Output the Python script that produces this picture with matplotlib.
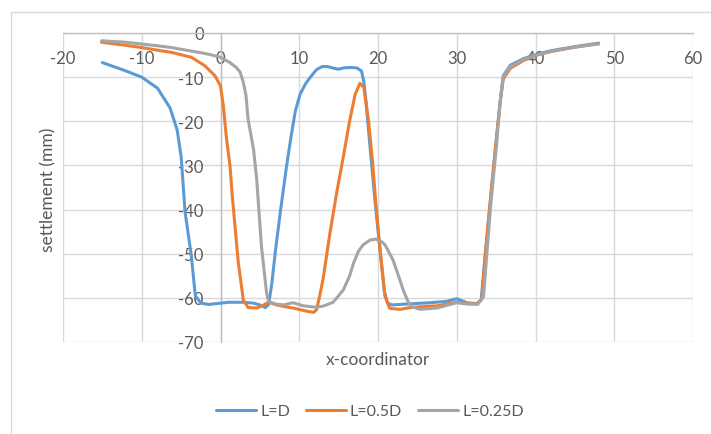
import matplotlib
matplotlib.use("Agg")
import matplotlib.pyplot as plt
from matplotlib.patches import Rectangle

plt.rcParams['font.family'] = ['Lato', 'DejaVu Sans']
plt.rcParams['axes.unicode_minus'] = False

# settlement profiles along the section
x_ld = [-15, -12, -10, -8, -6.4, -5.5, -5.0, -4.5, -3.7, -3.2, -2.5, -1.5, 0, 1, 2, 3, 4.2, 5.0,
        5.7, 6.1, 6.5, 7.0, 7.6, 8.4, 9.0, 9.5, 10.1, 10.8, 11.5, 12.2, 12.9, 13.6, 14.4, 15.0,
        15.7, 16.5, 17.3, 17.9, 18.2, 18.5, 19.0, 19.6, 20.25, 20.8, 21.2, 21.8, 23.6, 26.6,
        28.7, 30.0, 31.3, 32.5, 33.1, 33.6, 34.2, 34.9, 35.5, 35.9, 36.8, 38.5, 40.2, 42, 45, 48]
y_ld = [-6.7, -8.6, -10.0, -12.5, -17.0, -22, -28, -40.5, -50.5, -59.5, -61.2, -61.5, -61.2,
        -61.0, -61.0, -61.0, -61.2, -61.6, -62.2, -61.5, -57, -49, -40.5, -30, -23, -17.7, -13.9,
        -11.5, -9.8, -8.3, -7.6, -7.6, -8.0, -8.2, -7.9, -7.8, -7.9, -8.6, -11.0, -16, -26, -37.7,
        -49, -58.5, -61.2, -61.6, -61.4, -61.1, -60.8, -60.2, -61.1, -61.3, -60.5, -50.6, -39.2,
        -26.4, -15.8, -9.7, -7.3, -5.8, -4.8, -4.0, -3.1, -2.3]

x_l05 = [-15.1, -12, -10, -8, -6.2, -3.7, -2.0, -0.7, 0, 0.36, 0.6, 0.8, 1.2, 1.5, 2.26, 2.9,
         3.5, 4.6, 5.3, 6.1, 7.1, 8.2, 9.2, 10.9, 11.8, 12.2, 12.6, 13.05, 13.9, 14.75, 15.6,
         16.4, 17.1, 17.7, 18.2, 18.8, 19.3, 19.7, 20.25, 20.9, 21.5, 22.8, 24.1, 25.5, 27.5,
         30.0, 31.3, 32.6, 33.2, 33.6, 34.2, 34.9, 35.5, 35.9, 36.8, 38.5, 40.2, 42, 45, 48]
y_l05 = [-2.1, -2.8, -3.3, -3.9, -4.4, -5.5, -7.4, -9.7, -12, -16.5, -21, -24.5, -30, -37, -52,
         -60.5, -62.2, -62.3, -61.8, -61.0, -61.6, -62.0, -62.3, -63.0, -63.3, -62.7, -59.5,
         -55.5, -45.3, -36.2, -28, -19.9, -13.9, -11.4, -12.3, -19.9, -29, -38, -49, -59.7,
         -62.4, -62.6, -62.2, -62.0, -61.8, -61.0, -61.3, -61.4, -60.2, -50.6, -39.2, -26.4,
         -15.8, -10.5, -8.0, -6.2, -5.0, -4.2, -3.2, -2.4]

x_l025 = [-15.1, -12, -10, -8, -6.2, -4, -2.4, -1.3, 0, 1.2, 2.0, 2.5, 2.9, 3.24, 3.5, 4.2,
          4.6, 5.2, 5.85, 6.1, 7.0, 8.0, 9.2, 10.5, 12.0, 13.0, 14.3, 15.6, 16.4, 16.9, 17.5,
          18.1, 19.0, 19.7, 20.4, 20.9, 21.9, 22.6, 23.2, 23.8, 24.3, 25.3, 27.5, 30.0, 31.3,
          32.7, 33.4, 33.8, 34.3, 35.0, 35.5, 35.9, 36.8, 38.5, 40.2, 42, 45, 48]
y_l025 = [-1.75, -2.1, -2.5, -2.9, -3.3, -4.0, -4.5, -4.9, -5.5, -6.7, -7.8, -8.9, -11.2, -14.2,
          -19.5, -26.4, -33.2, -48.3, -58.9, -60.8, -61.4, -61.6, -61.1, -61.8, -62.1, -61.9,
          -61.0, -58.2, -55, -52.1, -49.5, -48, -46.9, -46.7, -47.2, -48, -51.4, -55, -58.2,
          -60.8, -62, -62.6, -62.3, -61.1, -61.4, -61.4, -59.7, -50.6, -39.2, -26.4, -15.8,
          -10.0, -7.6, -6.0, -5.0, -4.1, -3.2, -2.5]

series_labels = ['L=D', 'L=0.5D', 'L=0.25D']
series_colors = ['#5B9BD5', '#ED7D31', '#A5A5A5']

x_ticks = list(range(-20, 61, 10))
y_ticks = list(range(-70, 1, 10))

text_color = '#595959'
grid_color = '#D9D9D9'
axis_color = '#BFBFBF'

fig = plt.figure(figsize=(7.11, 4.35), dpi=100)

# chart-area frame
fig.patches.append(Rectangle((11 / 711, -0.1), 1.2, 1 - 13 / 435 + 0.1,
                             transform=fig.transFigure, fill=False,
                             edgecolor=grid_color, linewidth=1.0, clip_on=False))

ax = fig.add_axes([63 / 711, 1 - 343 / 435, 630 / 711, 309 / 435])

for xs, ys, lab, col in zip([x_ld, x_l05, x_l025], [y_ld, y_l05, y_l025],
                            series_labels, series_colors):
    ax.plot(xs, ys, color=col, lw=2.2, label=lab, solid_joinstyle='round',
            solid_capstyle='round', zorder=3)

ax.set_xlim(-20, 60)
ax.set_ylim(-70, 0)
ax.set_xticks(x_ticks)
ax.set_yticks(y_ticks)
ax.grid(True, color=grid_color, lw=1.0, zorder=0)
ax.set_axisbelow(True)

for s in ['bottom', 'right']:
    ax.spines[s].set_visible(False)
ax.spines['left'].set_position(('data', 0))
ax.spines['left'].set_color(axis_color)
ax.spines['top'].set_color(axis_color)
ax.spines['left'].set_linewidth(1.0)
ax.spines['top'].set_linewidth(1.0)
ax.spines['left'].set_zorder(1)
ax.spines['top'].set_zorder(1)

ax.tick_params(axis='x', top=True, labeltop=True, bottom=False, labelbottom=False,
               length=0, pad=-12, labelsize=12, labelcolor=text_color)
ax.tick_params(axis='y', length=0, pad=12, labelsize=12, labelcolor=text_color)
for t in ax.get_xticklabels():
    t.set_verticalalignment('top')

fig.text(378 / 711, 1 - 360 / 435, 'x-coordinator', ha='center', va='center',
         fontsize=12.5, color=text_color)
fig.text(48 / 711, 1 - 190 / 435, 'settlement (mm)', ha='center', va='center',
         rotation=90, fontsize=12.5, color=text_color)

fig.legend(loc='center', bbox_to_anchor=(370 / 711, 1 - 412 / 435), ncol=3,
           frameon=False, fontsize=11.5, labelcolor=text_color, handlelength=2.5,
           handletextpad=0.25, columnspacing=1.0)

fig.savefig('out.png', dpi=100)
